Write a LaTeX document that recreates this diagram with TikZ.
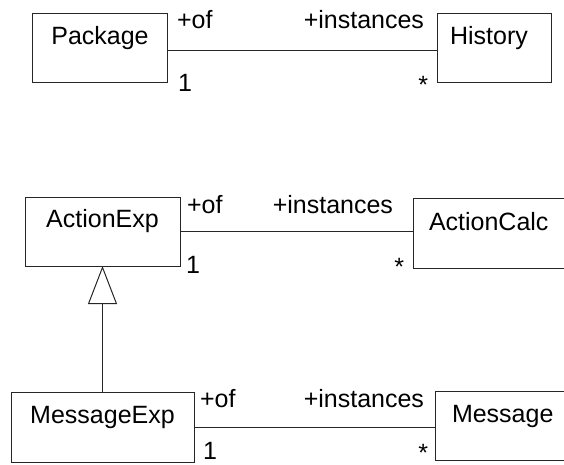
\documentclass[tikz,border=0pt]{standalone}
\usepackage{fontspec}
\setmainfont{Liberation Sans}
\usetikzlibrary{arrows.meta}
\begin{document}
\begin{tikzpicture}[x=1pt,y=-1pt,
  box/.style={draw=black!85, line width=1pt, inner sep=0pt, outer sep=0pt, fill=white},
  lbl/.style={inner sep=0pt, outer sep=0pt, font=\fontsize{25}{30}\selectfont, text=black},
  link/.style={draw=black!85, line width=1pt}]
\clip (0,0) rectangle (564,465);
\useasboundingbox (0,0) rectangle (564,465);
% group 1
\node[box, minimum width=135pt, minimum height=69pt] (pkg) at (99.5,48.5) {};
\node[box, minimum width=114pt, minimum height=69pt] (hist) at (494,48.5) {};
\node[lbl, anchor=base] (pkgt) at (100,45) {Package};
\node[lbl, anchor=base] (histt) at (489,45) {History};
\draw[link] ([yshift=-2.5pt]pkg.east) -- ([yshift=-2.5pt]hist.west);
\node[lbl, anchor=base west] (of1) at (177,29) {+of};
\node[lbl, anchor=base east] (in1) at (424,29) {+instances};
\node[lbl, anchor=base west] (m11) at (178,92) {1};
\node[lbl, anchor=base east] (s1) at (428,94) {*};
% group 2
\node[box, minimum width=155pt, minimum height=69pt] (act) at (102.5,231.5) {};
\node[box, minimum width=177pt, minimum height=70pt] (calc) at (501.5,233) {};
\node[lbl, anchor=base] (actt) at (102.5,227) {ActionExp};
\node[lbl, anchor=base west] (calct) at (429,230) {ActionCalc};
\draw[link] (act.east) -- (act.east -| calc.west);
\node[lbl, anchor=base west] (of2) at (187,213) {+of};
\node[lbl, anchor=base east] (in2) at (393,213) {+instances};
\node[lbl, anchor=base west] (m12) at (186,273) {1};
\node[lbl, anchor=base east] (s2) at (404,275) {*};
% group 3
\node[box, minimum width=183pt, minimum height=70pt] (mexp) at (102.5,427) {};
\node[box, minimum width=165pt, minimum height=69pt] (msg) at (517.5,425.5) {};
\node[lbl, anchor=base] (mexpt) at (102.5,423) {MessageExp};
\node[lbl, anchor=base west] (msgt) at (452,422) {Message};
\draw[link] (mexp.east) -- (mexp.east -| msg.west);
\node[lbl, anchor=base west] (of3) at (200,407) {+of};
\node[lbl, anchor=base east] (in3) at (424,407) {+instances};
\node[lbl, anchor=base west] (m13) at (203,459) {1};
\node[lbl, anchor=base east] (s3) at (428,461) {*};
% generalization
\draw[link, -{Triangle[open, length=38pt, width=29pt, line width=1pt]}] (mexp.north) -- (act.south);
\end{tikzpicture}
\end{document}
